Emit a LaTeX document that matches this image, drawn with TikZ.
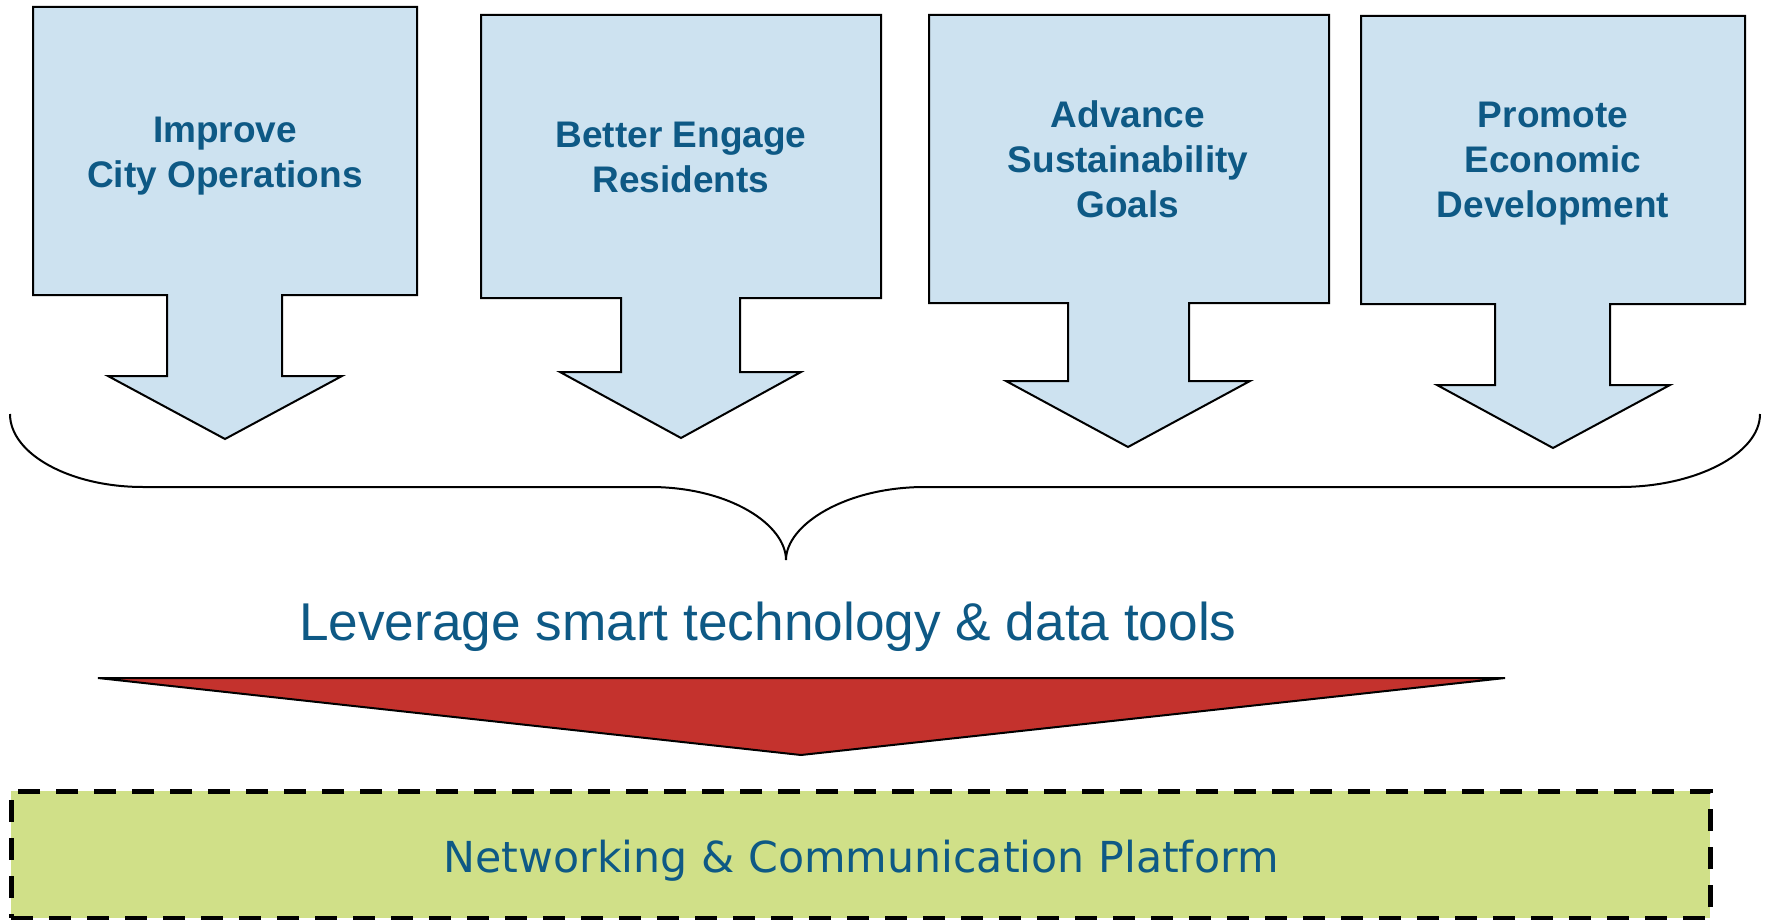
\documentclass[tikz,border=0pt]{standalone}
\usepackage{fontspec}
\setmainfont{Liberation Sans}
\newfontfamily\platfont{DejaVu Sans}
\definecolor{txtblue}{RGB}{14,89,133}
\definecolor{boxblue}{RGB}{205,226,240}
\definecolor{arrred}{RGB}{196,50,45}
\definecolor{platgreen}{RGB}{208,224,136}
\tikzset{
  goalarrow/.style={draw=black, line width=2pt, fill=boxblue, line join=miter},
  goaltext/.style={text=txtblue, align=center, inner sep=0pt, anchor=base,
    font=\fontsize{37}{45}\selectfont\bfseries},
  bracestyle/.style={draw=black, line width=2pt},
  redarrow/.style={draw=black, line width=2pt, fill=arrred, line join=miter},
  levertext/.style={text=txtblue, inner sep=0pt, anchor=base west,
    font=\fontsize{53.2}{60}\selectfont},
  platbox/.style={draw=black, fill=platgreen, line width=5pt,
    dash pattern=on 22pt off 16pt, inner sep=0pt,
    minimum width=1699pt, minimum height=127pt},
  plattext/.style={text=txtblue, inner sep=0pt, anchor=base,
    font=\platfont\fontsize{42.7}{50}\selectfont}
}
\begin{document}
\begin{tikzpicture}[x=1pt,y=-1pt]
\useasboundingbox (0,0) rectangle (1767,920);
% goal arrows: left/top/right/bottom/stemL/stemR/stemB/headL/headR/tipY/tipX
\foreach \l/\t/\r/\b/\sl/\sr/\sb/\hl/\hr/\ty/\tx in {
  33/7/417/295/167/282/376/108/342/439/225,
  481/15/881/298/621/740/372/560/801/438/681,
  929/15/1329/303/1068/1189/381/1006/1250/447/1128,
  1361/16/1745/304/1495/1610/385/1437/1670/448/1553}{
  \draw[goalarrow] (\l,\t) -- (\r,\t) -- (\r,\b) -- (\sr,\b) -- (\sr,\sb)
    -- (\hr,\sb) -- (\tx,\ty) -- (\hl,\sb) -- (\sl,\sb) -- (\sl,\b)
    -- (\l,\b) -- cycle;
}
\node[goaltext] (g1) at (225,188) {Improve\\City Operations};
\node[goaltext] (g2) at (681,193) {Better Engage\\Residents};
\node[goaltext] (g3) at (1128,218) {Advance\\Sustainability\\Goals};
\node[goaltext] (g4) at (1553,218) {Promote\\Economic\\Development};
% brace
\draw[bracestyle] (10,414) .. controls (10,454) and (70,487) .. (143,487)
  -- (650,487) .. controls (730,487) and (786,525) .. (786,560)
  .. controls (786,525) and (845,487) .. (925,487)
  -- (1620,487) .. controls (1695,487) and (1760,454) .. (1760,414);
% leverage text
\node[levertext] (lev) at (299,640) {Leverage smart technology \& data tools};
% red arrow
\coordinate (rl) at (98,678);
\coordinate (rr) at (1505,678);
\coordinate (rt) at (801,755);
\draw[redarrow] (rl) -- (rr) -- (rt) -- cycle;
% platform
\node[platbox] (plat) at (860.5,854.5) {};
\node[plattext] (pltxt) at (861,872) {Networking \& Communication Platform};
\end{tikzpicture}
\end{document}
